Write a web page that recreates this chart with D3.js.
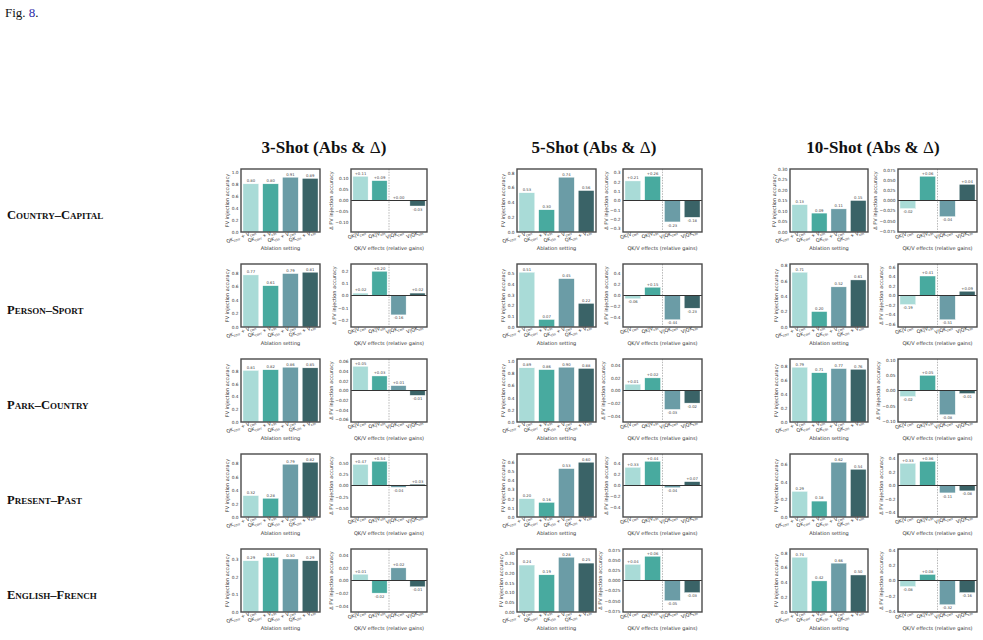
<!DOCTYPE html>
<html>
<head>
<meta charset="utf-8">
<script src="https://cdn.jsdelivr.net/npm/d3@7"></script>
<style>
  body { margin: 0; background: #fff; }
  svg { display: block; }
</style>
</head>
<body>
<svg id="fig" width="983" height="640"></svg>
<script>
// Tasks (rows) and shot settings (columns)
const rowNames = ["Country–Capital", "Person–Sport", "Park–Country", "Present–Past", "English–French"];
const shotTitles = ["3-Shot", "5-Shot", "10-Shot"];

// x tick labels: QK_a + V_b  and  X|Y_c
const ablationSettings = [["corr", "corr"], ["corr", "cln"], ["cln", "corr"], ["cln", "cln"]];
const effectLabels = [["QK|V", "corr"], ["QK|V", "cln"], ["V|QK", "corr"], ["V|QK", "cln"]];

// Absolute FV injection accuracy, one row per task
const abs3 = [[0.80, 0.80, 0.91, 0.89], [0.77, 0.61, 0.79, 0.81], [0.81, 0.82, 0.86, 0.85], [0.32, 0.28, 0.79, 0.82], [0.29, 0.31, 0.30, 0.29]];
const abs5 = [[0.53, 0.30, 0.74, 0.56], [0.51, 0.07, 0.45, 0.22], [0.89, 0.86, 0.90, 0.88], [0.20, 0.16, 0.53, 0.60], [0.24, 0.19, 0.28, 0.25]];
const abs10 = [[0.13, 0.09, 0.11, 0.15], [0.71, 0.20, 0.52, 0.61], [0.79, 0.71, 0.77, 0.76], [0.29, 0.18, 0.62, 0.54], [0.74, 0.42, 0.66, 0.50]];

// Relative gains (delta)
const delta3 = [[0.11, 0.09, 0.00, -0.025], [0.02, 0.20, -0.16, 0.02], [0.05, 0.03, 0.01, -0.01], [0.47, 0.54, -0.04, 0.03], [0.01, -0.02, 0.02, -0.01]];
const delta5 = [[0.21, 0.26, -0.23, -0.18], [-0.06, 0.15, -0.44, -0.23], [0.01, 0.02, -0.03, -0.02], [0.33, 0.44, -0.04, 0.07], [0.04, 0.06, -0.05, -0.03]];
const delta10 = [[-0.02, 0.06, -0.04, 0.04], [-0.19, 0.41, -0.51, 0.09], [-0.02, 0.05, -0.08, -0.01], [0.33, 0.36, -0.11, -0.08], [-0.08, 0.08, -0.32, -0.16]];

const absData = [abs3, abs5, abs10];
const deltaData = [delta3, delta5, delta10];

const colors = ["#a9dbd7", "#48aa9f", "#6b9ca6", "#3a6367"];

// layout
const colAbs = [[241, 320], [517, 596], [790, 868]];
const colDelta = [[351, 427], [623, 702], [898, 977]];
const rowTop = [169, 264, 359, 454, 549];
const panelH = 63;
const headerX = [324, 594, 873];

const svg = d3.select("#fig");
const font = "DejaVu Sans";
const ink = "#333";

// matplotlib-like tick steps (1, 2, 2.5, 5, 10)
function niceTicks(lo, hi, nbins) {
    const raw = (hi - lo) / nbins;
    const scale = Math.pow(10, Math.floor(Math.log10(raw)));
    const step = [1, 2, 2.5, 5, 10].map(s => s * scale).find(s => s >= raw * (1 - 1e-9));
    const ticks = [];
    for (let k = Math.ceil(lo / step - 1e-9); k <= Math.floor(hi / step + 1e-9); k++) ticks.push(k * step + 0);
    let dec = Math.max(0, -Math.floor(Math.log10(step) + 1e-9));
    if (Math.abs(step / Math.pow(10, Math.floor(Math.log10(step) + 1e-9)) - 2.5) < 1e-6) dec += 1;
    return { ticks, fmt: d3.format(`.${dec}f`) };
}

// writes main text + subscript pairs into a text element
function subText(text, parts) {
    text.text(null);
    parts.forEach(([main, sub], i) => {
        text.append("tspan").attr("dy", i === 0 ? 0 : -1.4).text(main);
        text.append("tspan").attr("dy", 1.4).attr("font-size", 3.5).text(sub);
    });
}

function drawPanel(x0, x1, y0, values, isDelta) {
    const y1 = y0 + panelH;
    const g = svg.append("g");

    const x = d3.scaleBand()
        .domain(d3.range(values.length))
        .range([x0, x1])
        .paddingInner(0.2)
        .paddingOuter(0.1);

    let y;
    if (isDelta) {
        const lim = Math.max(1.3 * d3.max(values, v => Math.abs(v)), 0.05);
        y = d3.scaleLinear().domain([-lim, lim]).range([y1, y0]);
    } else {
        const top = Math.max(1.15 * d3.max(values), 0.3);
        y = d3.scaleLinear().domain([0, top]).range([y1, y0]);
    }
    const t = niceTicks(y.domain()[0], y.domain()[1], 7);

    // bars
    g.selectAll(".bar")
        .data(values)
        .enter()
        .append("rect")
        .attr("class", "bar")
        .attr("x", (d, i) => x(i))
        .attr("width", x.bandwidth())
        .attr("y", d => Math.min(y(d), y(0)))
        .attr("height", d => Math.abs(y(d) - y(0)))
        .attr("fill", (d, i) => colors[i])
        .attr("stroke", "#fff")
        .attr("stroke-width", 0.4);

    if (isDelta) {
        // zero line and separator between QK and V effects
        g.append("line")
            .attr("x1", x0).attr("x2", x1)
            .attr("y1", y(0)).attr("y2", y(0))
            .attr("stroke", "#333").attr("stroke-width", 1);
        const mid = (x(1) + x.bandwidth() + x(2)) / 2;
        g.append("line")
            .attr("x1", mid).attr("x2", mid)
            .attr("y1", y0).attr("y2", y1)
            .attr("stroke", "#9a9a9a").attr("stroke-width", 0.7)
            .attr("stroke-dasharray", "1.5,1.2");
    }

    // value labels
    g.selectAll(".val")
        .data(values)
        .enter()
        .append("text")
        .attr("class", "val")
        .attr("x", (d, i) => x(i) + x.bandwidth() / 2)
        .attr("y", d => (isDelta && d < 0) ? y(d) + 4.6 : y(d) - 1.6)
        .attr("text-anchor", "middle")
        .attr("font-family", font)
        .attr("font-size", 3.8)
        .attr("fill", "#444")
        .text(d => isDelta ? (d >= 0 ? "+" : "-") + Math.abs(d).toFixed(2) : d.toFixed(2));

    // frame
    g.append("rect")
        .attr("x", x0).attr("y", y0)
        .attr("width", x1 - x0).attr("height", panelH)
        .attr("fill", "none")
        .attr("stroke", "#4a4a4a")
        .attr("stroke-width", 1.4);

    // y axis
    const yAxis = g.append("g")
        .attr("transform", `translate(${x0},0)`)
        .call(d3.axisLeft(y).tickValues(t.ticks).tickSize(0).tickPadding(2.5).tickFormat(t.fmt));
    yAxis.select(".domain").remove();
    yAxis.attr("font-size", 4.3).attr("font-family", font);
    yAxis.selectAll("text").attr("fill", ink);
    const maxW = d3.max(yAxis.selectAll("text").nodes(), n => n.getComputedTextLength());

    g.append("text")
        .attr("transform", `translate(${x0 - 2.5 - maxW - 2.2},${(y0 + y1) / 2}) rotate(-90)`)
        .attr("text-anchor", "middle")
        .attr("font-family", font)
        .attr("font-size", 5)
        .attr("fill", ink)
        .text(isDelta ? "Δ FV injection accuracy" : "FV injection accuracy");

    // x axis
    const xAxis = g.append("g")
        .attr("transform", `translate(0,${y1})`)
        .call(d3.axisBottom(x).tickSize(0));
    xAxis.select(".domain").remove();
    xAxis.attr("font-size", 4.8).attr("font-family", font);
    xAxis.selectAll("text")
        .attr("fill", ink)
        .attr("x", 5)
        .attr("y", 3)
        .attr("dy", "0.7em")
        .attr("transform", "rotate(-18)")
        .style("text-anchor", "end")
        .each(function (d) {
            const sel = d3.select(this);
            if (isDelta) subText(sel, [effectLabels[d]]);
            else subText(sel, [["QK", ablationSettings[d][0]], [" + V", ablationSettings[d][1]]]);
        });

    g.append("text")
        .attr("x", (x0 + x1) / 2)
        .attr("y", y1 + 17.5)
        .attr("text-anchor", "middle")
        .attr("font-family", font)
        .attr("font-size", 5)
        .attr("fill", ink)
        .text(isDelta ? "QK/V effects (relative gains)" : "Ablation setting");
}

// caption fragment at the top
const fig = svg.append("text")
    .attr("x", 5).attr("y", 17)
    .attr("font-family", "Liberation Serif")
    .attr("font-size", 13)
    .attr("fill", "#111");
fig.append("tspan").text("Fig. ");
fig.append("tspan").attr("fill", "#2a2aa8").text("8");
fig.append("tspan").text(".");

// column headers
shotTitles.forEach((s, c) => {
    const h = svg.append("text")
        .attr("x", headerX[c]).attr("y", 153)
        .attr("text-anchor", "middle")
        .attr("font-family", "Liberation Serif")
        .attr("font-weight", "bold")
        .attr("font-size", 17)
        .attr("fill", "#111");
    h.append("tspan").text(s + " (Abs & ");
    h.append("tspan").attr("font-weight", "normal").text("Δ");
    h.append("tspan").text(")");
});

// row labels
rowNames.forEach((name, r) => {
    svg.append("text")
        .attr("x", 7).attr("y", rowTop[r] + 50)
        .attr("font-family", "Liberation Serif")
        .attr("font-weight", "bold")
        .attr("font-size", 12.5)
        .style("font-variant", "small-caps")
        .attr("fill", "#111")
        .text(name);
});

// panels
rowNames.forEach((name, r) => {
    for (let c = 0; c < 3; c++) {
        drawPanel(colAbs[c][0], colAbs[c][1], rowTop[r], absData[c][r], false);
        drawPanel(colDelta[c][0], colDelta[c][1], rowTop[r], deltaData[c][r], true);
    }
});
</script>
</body>
</html>
